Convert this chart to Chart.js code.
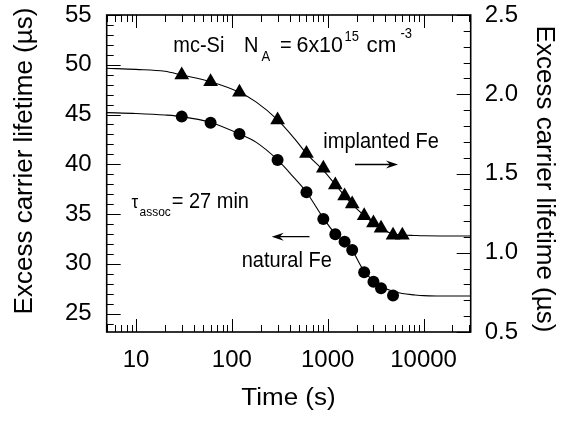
<!DOCTYPE html>
<html><head><meta charset="utf-8">
<script src="https://cdn.jsdelivr.net/npm/chart.js@4/dist/chart.umd.min.js"></script>
<style>html,body{margin:0;padding:0;background:#fff}#wrap{width:565px;height:425px}</style>
</head><body><div id="wrap"><canvas id="c" width="565" height="425"></canvas></div>
<script>
// ---- data ----
const timePoints = [30,60,120,300,600,900,1200,1500,1800,2400,3000,3600,4800];
const naturalFe = [44.79,44.18,43.05,40.44,37.19,34.51,32.98,32.23,31.40,29.16,28.21,27.55,26.81];
const timePointsImpl = [30,60,120,300,600,900,1200,1500,1800,2400,3000,3600,4800,6000];
const implantedFe = [2.121,2.079,2.012,1.838,1.626,1.533,1.427,1.358,1.308,1.234,1.188,1.155,1.110,1.110];
const curveTime = [4.95,10,20,30,60,120,180,300,450,600,900,1200,1500,1800,2400,3000,3600,4800,6000,8000,10000,15000,31000];
const naturalFit = [45.19,45.1,44.95,44.79,44.2,43.05,42.2,40.44,38.6,37.19,34.6,33.0,32.2,31.35,29.25,28.3,27.7,27.25,27.02,26.88,26.8,26.77,26.76];
const implantedFit = [2.164,2.157,2.145,2.121,2.079,2.012,1.95,1.838,1.72,1.626,1.52,1.43,1.36,1.305,1.235,1.188,1.155,1.118,1.112,1.109,1.107,1.106,1.106];
const xTickLabels = [10,100,1000,10000];
const leftTickLabels = [25,30,35,40,45,50,55];
const rightTickLabels = [0.5,1.0,1.5,2.0,2.5];

const FONT = "'Liberation Sans', Arial, sans-serif";
const pts = (xs, ys) => xs.map((x, i) => ({x, y: ys[i]}));

function minorLog(min, max) {
  const out = [];
  for (let d = 1; d <= 100000; d *= 10)
    for (let m = 1; m <= 9; m++) { const v = m * d; if (v >= min && v <= max) out.push(v); }
  return out;
}
function linSteps(min, max, step) {
  const out = [];
  for (let v = Math.ceil(min / step - 1e-9) * step; v <= max + 1e-9; v += step) out.push(+v.toFixed(6));
  return out;
}

function txt(ctx, s, x, y, size, opts = {}) {
  ctx.save();
  ctx.font = (opts.style || '') + ' ' + size + 'px ' + (opts.family || FONT);
  ctx.fillStyle = '#000';
  ctx.textAlign = opts.align || 'left';
  ctx.textBaseline = 'alphabetic';
  ctx.translate(x, y);
  if (opts.rot) ctx.rotate(opts.rot);
  ctx.scale(opts.sx || 1, opts.sy || 1);
  ctx.fillText(s, 0, 0);
  ctx.restore();
}
function arrow(ctx, x1, y, x2) {
  ctx.save();
  ctx.strokeStyle = '#000'; ctx.fillStyle = '#000'; ctx.lineWidth = 1.3;
  const dir = Math.sign(x2 - x1);
  ctx.beginPath(); ctx.moveTo(x1, y); ctx.lineTo(x2 - dir * 6, y); ctx.stroke();
  ctx.beginPath(); ctx.moveTo(x2, y); ctx.lineTo(x2 - dir * 12, y - 4); ctx.lineTo(x2 - dir * 8, y); ctx.lineTo(x2 - dir * 12, y + 4); ctx.closePath(); ctx.fill();
  ctx.restore();
}

const framePlugin = {
  id: 'frame',
  afterDraw(chart) {
    const {ctx, chartArea: a, scales} = chart;
    const sx = scales.x, sl = scales.y, sr = scales.y1;
    ctx.save();
    ctx.strokeStyle = '#000';
    ctx.lineWidth = 1;
    ctx.beginPath();
    minorLog(sx.min, sx.max).forEach(v => {
      const p = Math.round(sx.getPixelForValue(v)) + 0.5;
      const L = xTickLabels.includes(v) ? 13 : 7;
      ctx.moveTo(p, a.bottom); ctx.lineTo(p, a.bottom - L);
      ctx.moveTo(p, a.top); ctx.lineTo(p, a.top + L);
    });
    linSteps(sl.min, sl.max, 1).forEach(v => {
      const p = Math.round(sl.getPixelForValue(v)) + 0.5;
      const L = leftTickLabels.includes(v) ? 14 : 7;
      ctx.moveTo(a.left, p); ctx.lineTo(a.left + L, p);
    });
    linSteps(sr.min, sr.max, 0.1).forEach(v => {
      const p = Math.round(sr.getPixelForValue(v)) + 0.5;
      const L = rightTickLabels.some(t => Math.abs(t - v) < 1e-6) ? 14 : 7;
      ctx.moveTo(a.right, p); ctx.lineTo(a.right - L, p);
    });
    ctx.stroke();
    ctx.lineWidth = 1.6;
    ctx.strokeRect(a.left, a.top, a.right - a.left, a.bottom - a.top);
    ctx.restore();

    // axis titles
    txt(ctx, 'Excess carrier lifetime (\u00b5s)', 32, 161, 26, {align: 'center', rot: -Math.PI / 2});
    txt(ctx, 'Excess carrier lifetime (\u00b5s)', 537, 179, 26, {align: 'center', rot: Math.PI / 2});
    txt(ctx, 'Time (s)', 288.5, 405, 26, {align: 'center', sy: 0.9});

    // annotations
    const A = 20, S = 13, sy = 1.1;
    txt(ctx, 'mc-Si', 173.3, 52.3, A, {sy});
    txt(ctx, 'N', 244, 52.3, A, {sy});
    txt(ctx, 'A', 261.5, 60.7, S, {sy});
    txt(ctx, '=', 280, 52.3, A, {sy});
    txt(ctx, '6x10', 296.5, 52.3, A, {sy, sx: 1.07});
    txt(ctx, '15', 344.5, 41.3, S, {sy});
    txt(ctx, 'cm', 366.5, 52.3, A, {sy, sx: 1.12});
    txt(ctx, '-3', 400.5, 38, S, {sy});

    txt(ctx, 'implanted Fe', 323.3, 148, A, {sy});
    arrow(ctx, 355, 164.5, 398);
    txt(ctx, 'natural Fe', 241.7, 267, A, {sy});
    arrow(ctx, 309.5, 236.7, 271.7);

    txt(ctx, '\u03c4', 131.5, 207.5, 17, {sy});
    txt(ctx, 'assoc', 139.5, 215.5, 12, {sy});
    txt(ctx, '= 27 min', 171.7, 208.3, A, {sy});
  }
};

const tickFont = {family: FONT, size: 24};
const noPad = s => { s.paddingTop = 0; s.paddingBottom = 0; s.paddingLeft = 0; s.paddingRight = 0; };
new Chart(document.getElementById('c'), {
  type: 'scatter',
  data: {
    datasets: [
      {label: 'natural fit', data: pts(curveTime, naturalFit), yAxisID: 'y', showLine: true, pointRadius: 0,
       borderColor: '#000', borderWidth: 1.1, cubicInterpolationMode: 'monotone', order: 2},
      {label: 'implanted fit', data: pts(curveTime, implantedFit), yAxisID: 'y1', showLine: true, pointRadius: 0,
       borderColor: '#000', borderWidth: 1.1, cubicInterpolationMode: 'monotone', order: 2},
      {label: 'natural Fe', data: pts(timePoints, naturalFe), yAxisID: 'y', pointStyle: 'circle', pointRadius: 6,
       backgroundColor: '#000', borderColor: '#000', borderWidth: 0, order: 1},
      {label: 'implanted Fe', data: pts(timePointsImpl, implantedFe), yAxisID: 'y1', pointStyle: 'triangle', pointRadius: 8.5,
       backgroundColor: '#000', borderColor: '#000', borderWidth: 0, order: 1}
    ]
  },
  options: {
    responsive: false, animation: false, devicePixelRatio: 1,
    layout: {padding: {top: 15, left: 0, right: 0, bottom: 0}},
    plugins: {legend: {display: false}, tooltip: {enabled: false}},
    scales: {
      x: {type: 'logarithmic', position: 'bottom', min: 4.95, max: 31000,
        grid: {display: false, drawTicks: false}, border: {display: false},
        afterBuildTicks: s => { s.ticks = xTickLabels.map(v => ({value: v})); },
        afterFit: s => { s.height = 93; noPad(s); },
        ticks: {font: tickFont, color: '#000', padding: 14, maxRotation: 0, autoSkip: false, callback: v => String(v)}},
      y: {type: 'linear', position: 'left', min: 23.15, max: 55,
        grid: {display: false, drawTicks: false}, border: {display: false},
        afterBuildTicks: s => { s.ticks = leftTickLabels.map(v => ({value: v})); },
        afterFit: s => { s.width = 106.7; noPad(s); },
        ticks: {font: tickFont, color: '#000', padding: 15, callback: v => String(v)}},
      y1: {type: 'linear', position: 'right', min: 0.5, max: 2.5,
        grid: {display: false, drawTicks: false}, border: {display: false},
        afterBuildTicks: s => { s.ticks = rightTickLabels.map(v => ({value: v})); },
        afterFit: s => { s.width = 94.3; noPad(s); },
        ticks: {font: tickFont, color: '#000', padding: 14, callback: v => Number(v).toFixed(1)}}
    }
  },
  plugins: [framePlugin]
});
</script></body></html>
